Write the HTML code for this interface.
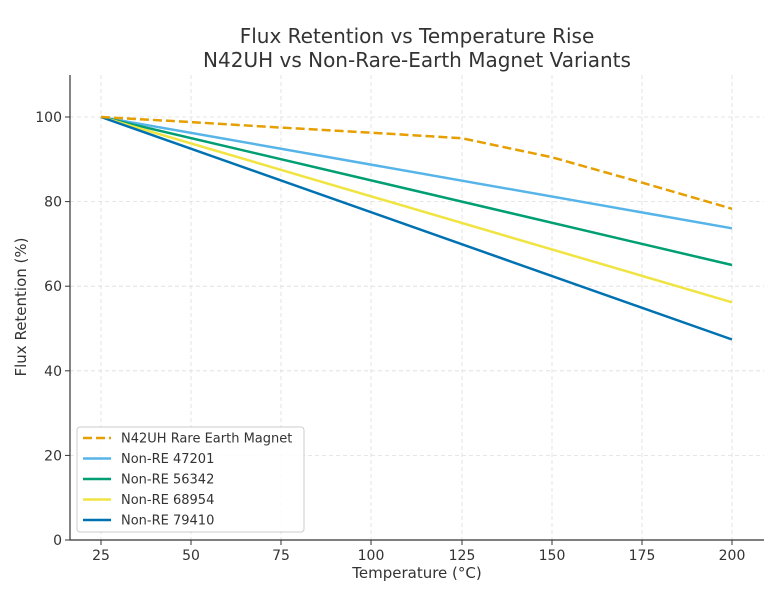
<!DOCTYPE html>
<html><head><meta charset="utf-8"><style>
body{margin:0;background:#fff}
svg{display:block;font-family:"DejaVu Sans","Liberation Sans",sans-serif}
</style></head><body>
<svg width="781" height="594" viewBox="0 0 781 594" xmlns="http://www.w3.org/2000/svg">
<rect width="781" height="594" fill="#fff"/>
<text x="417" y="43" text-anchor="middle" font-size="20" fill="#333">Flux Retention vs Temperature Rise</text>
<text x="417" y="67" text-anchor="middle" font-size="20" fill="#333">N42UH vs Non-Rare-Earth Magnet Variants</text>
<g stroke="#ddd" stroke-width="0.8" stroke-dasharray="4,3">
<line x1="101" y1="75" x2="101" y2="540"/><line x1="191" y1="75" x2="191" y2="540"/>
<line x1="281" y1="75" x2="281" y2="540"/><line x1="371" y1="75" x2="371" y2="540"/>
<line x1="462" y1="75" x2="462" y2="540"/><line x1="552" y1="75" x2="552" y2="540"/>
<line x1="642" y1="75" x2="642" y2="540"/><line x1="732" y1="75" x2="732" y2="540"/>
<line x1="70" y1="455.4" x2="764" y2="455.4"/><line x1="70" y1="370.8" x2="764" y2="370.8"/>
<line x1="70" y1="286.2" x2="764" y2="286.2"/><line x1="70" y1="201.6" x2="764" y2="201.6"/>
<line x1="70" y1="117" x2="764" y2="117"/>
</g>
<g fill="none" stroke-width="2.5">
<polyline stroke="#56b4e9" points="101,117 732,228.3"/>
<polyline stroke="#009e73" points="101,117 732,265"/>
<polyline stroke="#f0e442" points="101,117 732,302.3"/>
<polyline stroke="#0072b2" points="101,117 732,339.5"/>
<polyline stroke="#e69f00" stroke-dasharray="9,4" points="101,117 191.1,122.1 281.3,127.6 371.4,132.7 461.6,138.2 551.7,157.2 641.9,182.6 732,208.8"/>
</g>
<g stroke="#333" stroke-width="1.2">
<line x1="70" y1="75" x2="70" y2="540.5"/><line x1="69.5" y1="540" x2="764" y2="540"/>
</g>
<g stroke="#333" stroke-width="1">
<line x1="101" y1="540" x2="101" y2="545"/><line x1="191" y1="540" x2="191" y2="545"/>
<line x1="281" y1="540" x2="281" y2="545"/><line x1="371" y1="540" x2="371" y2="545"/>
<line x1="462" y1="540" x2="462" y2="545"/><line x1="552" y1="540" x2="552" y2="545"/>
<line x1="642" y1="540" x2="642" y2="545"/><line x1="732" y1="540" x2="732" y2="545"/>
<line x1="65" y1="540" x2="70" y2="540"/><line x1="65" y1="455.4" x2="70" y2="455.4"/>
<line x1="65" y1="370.8" x2="70" y2="370.8"/><line x1="65" y1="286.2" x2="70" y2="286.2"/>
<line x1="65" y1="201.6" x2="70" y2="201.6"/><line x1="65" y1="117" x2="70" y2="117"/>
</g>
<g font-size="14" fill="#333" text-anchor="middle">
<text x="101" y="560">25</text><text x="191" y="560">50</text><text x="281" y="560">75</text>
<text x="371" y="560">100</text><text x="462" y="560">125</text><text x="552" y="560">150</text>
<text x="642" y="560">175</text><text x="732" y="560">200</text>
</g>
<g font-size="14" fill="#333" text-anchor="end">
<text x="62" y="545">0</text><text x="62" y="460.4">20</text><text x="62" y="375.8">40</text>
<text x="62" y="291.2">60</text><text x="62" y="206.6">80</text><text x="62" y="122">100</text>
</g>
<text x="417" y="578" text-anchor="middle" font-size="15" fill="#333">Temperature (°C)</text>
<text transform="translate(26,307) rotate(-90)" text-anchor="middle" font-size="15" fill="#333">Flux Retention (%)</text>
<rect x="77" y="427" width="227" height="105" rx="3" fill="#fff" fill-opacity="0.85" stroke="#ccc" stroke-width="1"/>
<g stroke-width="2.5">
<line x1="83" y1="438" x2="111" y2="438" stroke="#e69f00" stroke-dasharray="9,4"/>
<line x1="83" y1="458.5" x2="111" y2="458.5" stroke="#56b4e9"/>
<line x1="83" y1="479" x2="111" y2="479" stroke="#009e73"/>
<line x1="83" y1="499.5" x2="111" y2="499.5" stroke="#f0e442"/>
<line x1="83" y1="520" x2="111" y2="520" stroke="#0072b2"/>
</g>
<g font-size="13" fill="#333">
<text x="121" y="442.5">N42UH Rare Earth Magnet</text>
<text x="121" y="463">Non-RE 47201</text>
<text x="121" y="483.5">Non-RE 56342</text>
<text x="121" y="504">Non-RE 68954</text>
<text x="121" y="524.5">Non-RE 79410</text>
</g>
</svg>
</body></html>
